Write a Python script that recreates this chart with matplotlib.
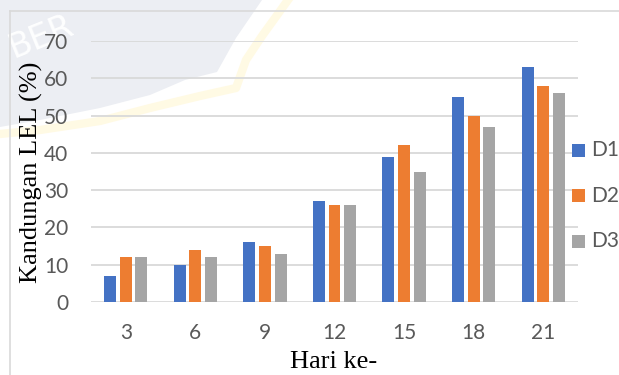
import matplotlib
matplotlib.use("Agg")
from matplotlib import pyplot as plt
from matplotlib.patches import Polygon, Rectangle
from matplotlib.lines import Line2D
import numpy as np

# Data
days = ["3", "6", "9", "12", "15", "18", "21"]
series_names = ["D1", "D2", "D3"]
d1 = [7, 10, 16, 27, 39, 55, 63]
d2 = [12, 14, 15, 26, 42, 50, 58]
d3 = [12, 12, 13, 26, 35, 47, 56]
yticks = [0, 10, 20, 30, 40, 50, 60, 70]

colors = ["#4472C4", "#ED7D31", "#A5A5A5"]
tick_color = "#595959"
grid_color = "#d9d9d9"

W, H = 619, 375


def fx(x):
    return x / W


def fy(y):
    return 1 - y / H


fig = plt.figure(figsize=(W / 100, H / 100), dpi=100)
fig.patch.set_facecolor("white")

# Background watermark shape in the top-left corner
shade = Polygon(
    [(fx(0), fy(0)), (fx(262), fy(0)), (fx(236), fy(38)), (fx(217), fy(72)),
     (fx(185), fy(80)), (fx(150), fy(95)), (fx(100), fy(108)),
     (fx(40), fy(120)), (fx(0), fy(127))],
    closed=True, transform=fig.transFigure, facecolor="#eceef3",
    edgecolor="none", zorder=-3)
fig.add_artist(shade)
rim = Line2D(
    [fx(v) for v in (288, 262, 246, 236, 200, 150, 100, 40, 0)],
    [fy(v) for v in (0, 36, 60, 88, 96, 108, 121, 130, 134)],
    transform=fig.transFigure, color="#fff9de", lw=6, alpha=0.8,
    solid_joinstyle="round", zorder=-3)
fig.add_artist(rim)
fig.text(fx(14), fy(58), "BER", transform=fig.transFigure, color="white",
         fontsize=24, family="DejaVu Sans", rotation=22, rotation_mode="anchor",
         ha="left", va="baseline", alpha=0.95, zorder=-2)

# Chart frame (left and top edges visible)
fig.add_artist(Line2D([fx(9.5), fx(9.5)], [fy(10.5), fy(380)],
                      transform=fig.transFigure, color=grid_color, lw=1.2))
fig.add_artist(Line2D([fx(9.5), fx(625)], [fy(10.5), fy(10.5)],
                      transform=fig.transFigure, color=grid_color, lw=1.2))

ax = fig.add_axes([fx(91), fy(302), (578 - 91) / W, (302 - 41) / H])
ax.patch.set_alpha(0)

x = np.arange(len(days))
step = 0.225
width = 0.172
for i, (vals, color, name) in enumerate(zip([d1, d2, d3], colors, series_names)):
    ax.bar(x + (i - 1) * step, vals, width=width, color=color, label=name,
           zorder=3)

ax.set_xlim(-0.5, len(days) - 0.5)
ax.set_ylim(0, 70)
ax.set_yticks(yticks)
ax.set_xticks(x)
ax.set_xticklabels(days)
ax.yaxis.grid(True, color=grid_color, lw=1.3)
ax.set_axisbelow(True)
for s in ax.spines.values():
    s.set_visible(False)
ax.tick_params(axis="both", length=0, labelsize=15, labelcolor=tick_color)
ax.tick_params(axis="y", pad=16.5)
ax.tick_params(axis="x", pad=15)
for lab in ax.get_xticklabels() + ax.get_yticklabels():
    lab.set_family("Lato")

# Axis titles
fig.text(fx(31), fy(172.5), "Kandungan LEL (%)", rotation=90, ha="center",
         va="center", family="Liberation Serif", fontsize=19, color="black")
fig.text(fx(334), fy(362), "Hari ke-", ha="center", va="center",
         family="Liberation Serif", fontsize=19, color="black")

# Legend on the right
for name, color, yc in zip(series_names, colors, [150.5, 195.5, 241]):
    fig.add_artist(Rectangle((fx(572), fy(yc + 6.5)), 13 / W, 13 / H,
                             transform=fig.transFigure, facecolor=color,
                             edgecolor="none"))
    fig.text(fx(591), fy(yc), name, ha="left", va="center", family="Lato",
             fontsize=15, color=tick_color)

fig.savefig("out.png", dpi=100)
